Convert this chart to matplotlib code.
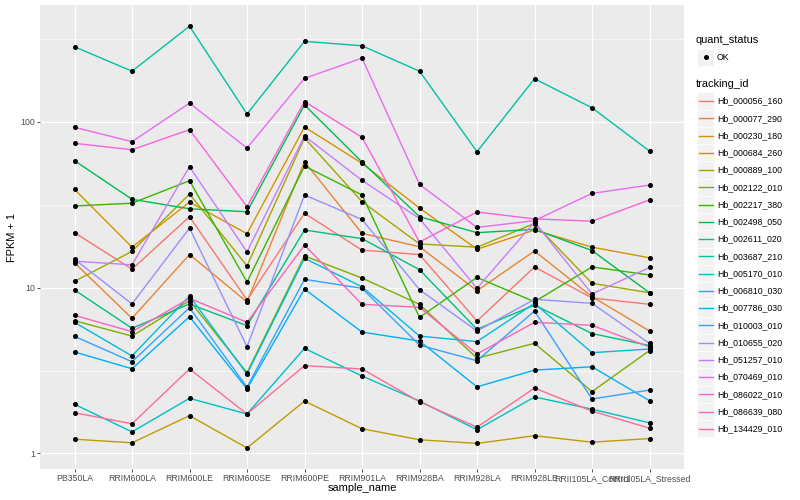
import numpy as np
import matplotlib.pyplot as plt
from matplotlib.patches import Rectangle
from matplotlib.lines import Line2D

plt.rcParams['font.family'] = ['Liberation Sans', 'DejaVu Sans']

samples = ["PB350LA", "RRIM600LA", "RRIM600LE", "RRIM600SE", "RRIM600PE", "RRIM901LA",
           "RRIM928BA", "RRIM928LA", "RRIM928LE", "RRII105LA_Control", "RRII105LA_Stressed"]

tracking_ids = ["Hb_000056_160", "Hb_000077_290", "Hb_000230_180", "Hb_000684_260",
                "Hb_000889_100", "Hb_002122_010", "Hb_002217_380", "Hb_002498_050",
                "Hb_002611_020", "Hb_003687_210", "Hb_005170_010", "Hb_006810_030",
                "Hb_007786_030", "Hb_010003_010", "Hb_010655_020", "Hb_051257_010",
                "Hb_070469_010", "Hb_086022_010", "Hb_086639_080", "Hb_134429_010"]

# ggplot hue palette, 20 levels
colors = ["#F8766D", "#EA8331", "#D89000", "#C09B00", "#A3A500", "#7CAE00", "#39B600",
          "#00BB4E", "#00BF7D", "#00C1A3", "#00BFC4", "#00BAE0", "#00B0F6", "#35A2FF",
          "#9590FF", "#C77CFF", "#E76BF3", "#FA62DB", "#FF62BC", "#FF6C91"]

# FPKM + 1 per sample
hb_000056_160 = [21.4, 12.9, 26.7, 8.41, 28.0, 16.8, 15.8, 6.28, 13.3, 8.65, 7.92]
hb_000077_290 = [14.1, 6.52, 15.8, 8.18, 57.3, 21.2, 17.6, 9.57, 16.6, 8.80, 5.47]
hb_000230_180 = [39.0, 17.5, 32.7, 21.1, 92.7, 56.0, 30.1, 17.0, 22.2, 17.5, 15.1]
hb_000684_260 = [1.22, 1.16, 1.69, 1.08, 2.07, 1.41, 1.21, 1.15, 1.28, 1.17, 1.23]
hb_000889_100 = [10.9, 16.5, 36.6, 13.5, 79.6, 32.9, 18.3, 17.5, 24.3, 10.6, 9.30]
hb_002122_010 = [6.31, 5.10, 8.33, 3.07, 15.5, 11.4, 7.92, 3.75, 4.61, 2.36, 4.17]
hb_002217_380 = [31.0, 32.2, 44.0, 10.8, 53.9, 36.1, 6.61, 11.5, 8.21, 13.3, 11.9]
hb_002498_050 = [58.1, 34.0, 29.8, 28.6, 126.0, 57.0, 26.7, 21.4, 22.4, 16.7, 9.30]
hb_002611_020 = [9.66, 5.68, 7.96, 5.89, 22.2, 19.7, 12.8, 5.60, 7.84, 5.28, 4.47]
hb_003687_210 = [282.0, 201.0, 375.0, 111.0, 304.0, 286.0, 201.0, 65.8, 181.0, 121.0, 66.4]
hb_005170_010 = [1.98, 1.35, 2.15, 1.73, 4.30, 2.93, 2.07, 1.39, 2.19, 1.85, 1.53]
hb_006810_030 = [6.17, 3.87, 8.89, 3.01, 15.0, 10.1, 5.10, 4.72, 8.03, 4.05, 4.26]
hb_007786_030 = [4.09, 3.24, 6.67, 2.45, 9.79, 5.39, 4.76, 2.52, 3.18, 3.33, 2.08]
hb_010003_010 = [5.08, 3.57, 7.56, 2.51, 11.2, 9.89, 4.50, 3.62, 7.22, 2.13, 2.41]
hb_010655_020 = [14.8, 7.96, 22.8, 4.40, 36.1, 25.7, 9.70, 5.47, 8.49, 8.03, 4.60]
hb_051257_010 = [14.4, 13.7, 53.4, 16.4, 81.8, 44.2, 26.0, 9.89, 24.8, 9.14, 13.2]
hb_070469_010 = [92.3, 75.6, 129.0, 69.2, 182.0, 241.0, 41.8, 23.0, 25.3, 36.9, 41.4]
hb_086022_010 = [73.9, 67.6, 89.3, 30.7, 132.0, 80.3, 18.8, 28.5, 25.9, 25.1, 33.7]
hb_086639_080 = [6.80, 5.42, 8.61, 6.17, 18.0, 7.92, 7.60, 3.98, 6.17, 5.92, 4.38]
hb_134429_010 = [1.76, 1.51, 3.23, 1.73, 3.38, 3.23, 2.05, 1.44, 2.48, 1.80, 1.42]

series = [hb_000056_160, hb_000077_290, hb_000230_180, hb_000684_260, hb_000889_100,
          hb_002122_010, hb_002217_380, hb_002498_050, hb_002611_020, hb_003687_210,
          hb_005170_010, hb_006810_030, hb_007786_030, hb_010003_010, hb_010655_020,
          hb_051257_010, hb_070469_010, hb_086022_010, hb_086639_080, hb_134429_010]

W, H = 800, 500
fig = plt.figure(figsize=(8, 5), dpi=100)
# panel in pixels: x 40..684, y 5..469
ax = fig.add_axes([40 / W, (H - 469) / H, 644 / W, 464 / H])
ax.set_facecolor("#EBEBEB")
for s in ax.spines.values():
    s.set_visible(False)

x = np.arange(1, len(samples) + 1)
for vals, col in zip(series, colors):
    ax.plot(x, vals, color=col, lw=1.0, zorder=3)
for vals in series:
    ax.plot(x, vals, ls="none", marker="o", ms=2.6, color="black", zorder=4)

ax.set_yscale("log")
ax.set_ylim(10 ** -0.0934, 10 ** 2.702)
ax.set_xlim(0.4, len(samples) + 0.6)

ax.set_yticks([1, 10, 100])
ax.set_yticklabels(["1", "10", "100"])
ax.set_yticks([10 ** 0.5, 10 ** 1.5, 10 ** 2.5], minor=True)
ax.yaxis.set_minor_formatter(plt.NullFormatter())
ax.set_xticks(x)
ax.set_xticklabels(samples)

ax.grid(True, which="major", color="white", lw=0.8, zorder=0)
ax.grid(True, which="minor", axis="y", color="white", lw=0.4, zorder=0)
ax.set_axisbelow(True)
ax.tick_params(axis="both", which="major", length=2.0, width=0.6, color="#333333",
               labelcolor="#4D4D4D", labelsize=6.3, pad=1.6)
ax.tick_params(axis="y", which="minor", length=0)

fig.text(12 / W, 1 - 237 / H, "FPKM + 1", rotation=90, ha="center", va="center",
         fontsize=7.9, color="black")
fig.text(362 / W, 1 - 488 / H, "sample_name", ha="center", va="center",
         fontsize=7.9, color="black")

# legend drawn in pixel coordinates
lax = fig.add_axes([0, 0, 1, 1], facecolor="none")
lax.set_xlim(0, W)
lax.set_ylim(H, 0)
lax.axis("off")

lax.text(696, 40, "quant_status", fontsize=7.9, va="center", ha="left")
lax.add_patch(Rectangle((697, 48.5), 17, 17, facecolor="#F2F2F2", edgecolor="white", lw=0.5))
lax.plot([705.5], [57], marker="o", ms=2.6, color="black")
lax.text(717, 57, "OK", fontsize=6.3, va="center", ha="left")

lax.text(696, 84, "tracking_id", fontsize=7.9, va="center", ha="left")
for i, (tid, col) in enumerate(zip(tracking_ids, colors)):
    yc = 101 + i * 17.25
    lax.add_patch(Rectangle((697, yc - 8.6), 17, 17.2, facecolor="#F2F2F2",
                            edgecolor="white", lw=0.5))
    lax.add_line(Line2D([698.5, 712.5], [yc, yc], color=col, lw=1.0))
    lax.text(717, yc, tid, fontsize=6.3, va="center", ha="left")

fig.savefig("out.png", dpi=100)
